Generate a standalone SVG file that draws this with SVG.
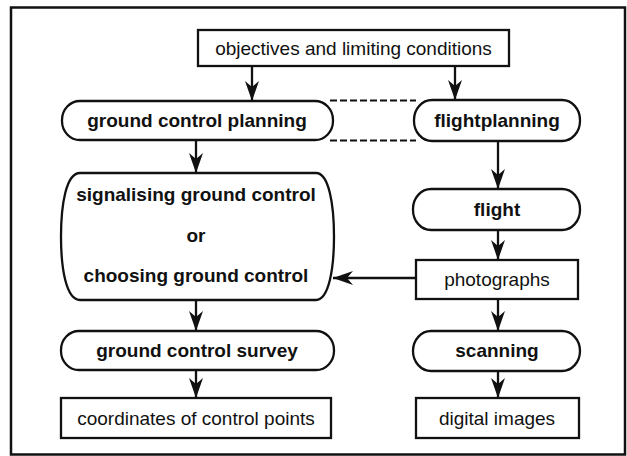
<svg xmlns="http://www.w3.org/2000/svg" width="627" height="456" viewBox="0 0 627 456">
  <defs>
    <marker id="arr" markerUnits="userSpaceOnUse" viewBox="0 0 20 14" refX="20" refY="7" markerWidth="20" markerHeight="14" orient="auto">
      <path d="M0,0 L20,7 L0,14 L6,7 Z" fill="#111"/>
    </marker>
  </defs>
  <style>
    .box { fill: #fff; stroke: #111; stroke-width: 2.3; }
    .reg { font-family: "Liberation Sans", Arial, sans-serif; font-size: 19px; fill: #111; text-anchor: middle; }
    .bold { font-family: "Liberation Sans", Arial, sans-serif; font-size: 19px; font-weight: bold; fill: #111; text-anchor: middle; }
    .conn { stroke: #111; stroke-width: 2.3; fill: none; }
    .dash { stroke: #111; stroke-width: 2.2; fill: none; stroke-dasharray: 7 3; }
  </style>
  <rect x="11" y="7.5" width="614" height="447" fill="#fff" stroke="#111" stroke-width="2.5"/>

  <g id="connectors">
    <line class="dash" x1="330" y1="100.5" x2="416" y2="100.5"/>
    <line class="dash" x1="330" y1="140.5" x2="416" y2="140.5"/>
    <line class="conn" x1="252" y1="66" x2="252" y2="101" marker-end="url(#arr)"/>
    <line class="conn" x1="455" y1="66" x2="455" y2="100" marker-end="url(#arr)"/>
    <line class="conn" x1="196" y1="140" x2="196" y2="173" marker-end="url(#arr)"/>
    <line class="conn" x1="498" y1="141" x2="498" y2="189" marker-end="url(#arr)"/>
    <line class="conn" x1="498" y1="230" x2="498" y2="260" marker-end="url(#arr)"/>
    <line class="conn" x1="416" y1="278" x2="333" y2="278" marker-end="url(#arr)"/>
    <line class="conn" x1="196" y1="300" x2="196" y2="331" marker-end="url(#arr)"/>
    <line class="conn" x1="498" y1="299" x2="498" y2="331" marker-end="url(#arr)"/>
    <line class="conn" x1="196" y1="370" x2="196" y2="398" marker-end="url(#arr)"/>
    <line class="conn" x1="498" y1="371" x2="498" y2="398" marker-end="url(#arr)"/>
  </g>

  <g id="objectives">
    <rect class="box" x="198" y="30" width="311" height="36"/>
    <text class="reg" x="353.5" y="54.5">objectives and limiting conditions</text>
  </g>
  <g id="ground-control-planning">
    <rect class="box" x="62" y="101" width="271" height="39" rx="18" ry="19"/>
    <text class="bold" x="197" y="126.5">ground control planning</text>
  </g>
  <g id="flightplanning">
    <rect class="box" x="414" y="100" width="166" height="41" rx="18" ry="20"/>
    <text class="bold" x="497" y="126.5">flightplanning</text>
  </g>
  <g id="signalising">
    <path class="box" d="M80,173 H316 C329,173 334,205 334,236.5 C334,268 329,300 316,300 H80 C66,300 61,268 61,236.5 C61,205 66,173 80,173 Z"/>
    <text class="bold" x="196" y="201">signalising ground control</text>
    <text class="bold" x="196" y="242">or</text>
    <text class="bold" x="196" y="282">choosing ground control</text>
  </g>
  <g id="flight">
    <rect class="box" x="413" y="189" width="167" height="41" rx="18" ry="20"/>
    <text class="bold" x="497" y="215.5">flight</text>
  </g>
  <g id="photographs">
    <rect class="box" x="416" y="260" width="162" height="39"/>
    <text class="reg" x="497" y="285.5">photographs</text>
  </g>
  <g id="ground-control-survey">
    <rect class="box" x="61" y="331" width="273" height="39" rx="18" ry="19"/>
    <text class="bold" x="197" y="356.5">ground control survey</text>
  </g>
  <g id="scanning">
    <rect class="box" x="413" y="331" width="167" height="40" rx="18" ry="20"/>
    <text class="bold" x="497" y="357">scanning</text>
  </g>
  <g id="coordinates">
    <rect class="box" x="61" y="398" width="270" height="40"/>
    <text class="reg" x="196" y="424.5">coordinates of control points</text>
  </g>
  <g id="digital-images">
    <rect class="box" x="416" y="398" width="163" height="40"/>
    <text class="reg" x="497" y="424.5">digital images</text>
  </g>
</svg>
